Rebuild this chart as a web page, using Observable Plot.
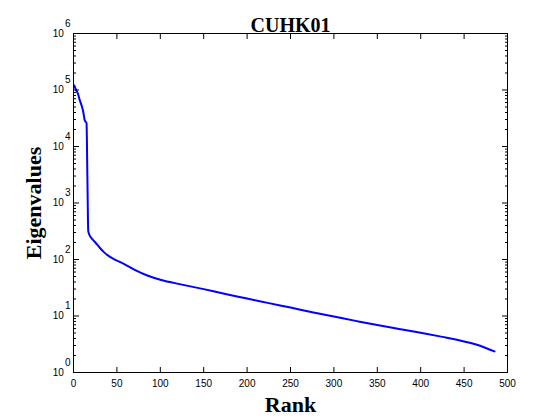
<!DOCTYPE html>
<html>
<head>
<meta charset="utf-8">
<script src="https://cdn.jsdelivr.net/npm/d3@7"></script>
<script src="https://cdn.jsdelivr.net/npm/@observablehq/plot@0.6"></script>
<style>
  html, body { margin: 0; padding: 0; background: white; }
</style>
</head>
<body>
<div id="chart"></div>
<script>
const title = "CUHK01";
const xLabel = "Rank";
const yLabel = "Eigenvalues";

// Rank positions sampled from the reference curve and the eigenvalue read at each
const ranks = [1, 3, 5, 7, 9, 11, 13, 15, 16, 17, 18, 20, 25, 30, 35, 40, 46, 58, 70, 85,
  100, 125, 150, 175, 200, 225, 250, 275, 300, 325, 350, 375, 400, 425, 450, 465, 475, 485];
const eigenvalues = [120000, 100000, 87000, 68000, 55000, 43000, 29000, 26000, 2900, 320, 280, 248, 202, 163, 135, 117, 103, 84, 66, 52,
  43.8, 35.9, 29.9, 24.5, 20.4, 16.9, 14.1, 11.7, 9.8, 8.2, 6.9, 5.9, 5.05, 4.27, 3.55, 3.09, 2.72, 2.36];

const xTicks = [0, 50, 100, 150, 200, 250, 300, 350, 400, 450, 500];
const yTicks = [1, 10, 100, 1000, 10000, 100000, 1000000];
const yMinorTicks = yTicks.slice(0, -1).flatMap(p => [2, 3, 4, 5, 6, 7, 8, 9].map(m => m * p));

const data = ranks.map((r, i) => ({rank: r, value: eigenvalues[i]}));

const chart = Plot.plot({
  width: 560,
  height: 420,
  marginLeft: 73,
  marginRight: 53,
  marginTop: 33,
  marginBottom: 48,
  style: {fontFamily: "'Liberation Sans', sans-serif", fontSize: "10px", background: "white", color: "black"},
  x: {domain: [0, 500]},
  y: {type: "log", domain: [1, 1e6]},
  marks: [
    Plot.line(data, {x: "rank", y: "value", stroke: "#0000ff", strokeWidth: 2, curve: "monotone-x"}),
    Plot.frame({stroke: "black", strokeWidth: 1}),
    Plot.axisX({anchor: "bottom", ticks: xTicks, tickSize: -5, tickPadding: 12, tickFormat: d => String(d), label: null}),
    Plot.axisX({anchor: "top", ticks: xTicks, tickSize: -5, tickFormat: () => "", label: null}),
    Plot.axisY({anchor: "left", ticks: yTicks, tickSize: -6, tickPadding: 9, tickFormat: d => String(Math.round(Math.log10(d))), label: null}),
    Plot.axisY({anchor: "left", ticks: yMinorTicks, tickSize: -3, tickFormat: () => "", label: null}),
    Plot.axisY({anchor: "right", ticks: yTicks, tickSize: -6, tickFormat: () => "", label: null}),
    Plot.axisY({anchor: "right", ticks: yMinorTicks, tickSize: -3, tickFormat: () => "", label: null}),
    Plot.text([title], {frameAnchor: "top", dy: -16, text: d => d, fontSize: 20, fontWeight: "bold", fontFamily: "'Liberation Serif', serif"}),
    Plot.text([xLabel], {frameAnchor: "bottom", dy: 39, text: d => d, fontSize: 22, fontWeight: "bold", fontFamily: "'Liberation Serif', serif"}),
    Plot.text([yLabel], {frameAnchor: "left", dx: -40, rotate: -90, textAnchor: "middle", text: d => d, fontSize: 22, fontWeight: "bold", fontFamily: "'Liberation Serif', serif"})
  ]
});

// Render y tick labels as 10 with a raised exponent
chart.querySelectorAll('g[aria-label="y-axis tick label"] text').forEach(t => {
  const exp = t.textContent;
  if (exp === "") return;
  t.textContent = "";
  const base = document.createElementNS("http://www.w3.org/2000/svg", "tspan");
  base.textContent = "10";
  const sup = document.createElementNS("http://www.w3.org/2000/svg", "tspan");
  sup.textContent = exp;
  sup.setAttribute("dy", "-10");
  sup.setAttribute("dx", "1");
  t.appendChild(base);
  t.appendChild(sup);
});

document.getElementById("chart").appendChild(chart);
</script>
</body>
</html>
